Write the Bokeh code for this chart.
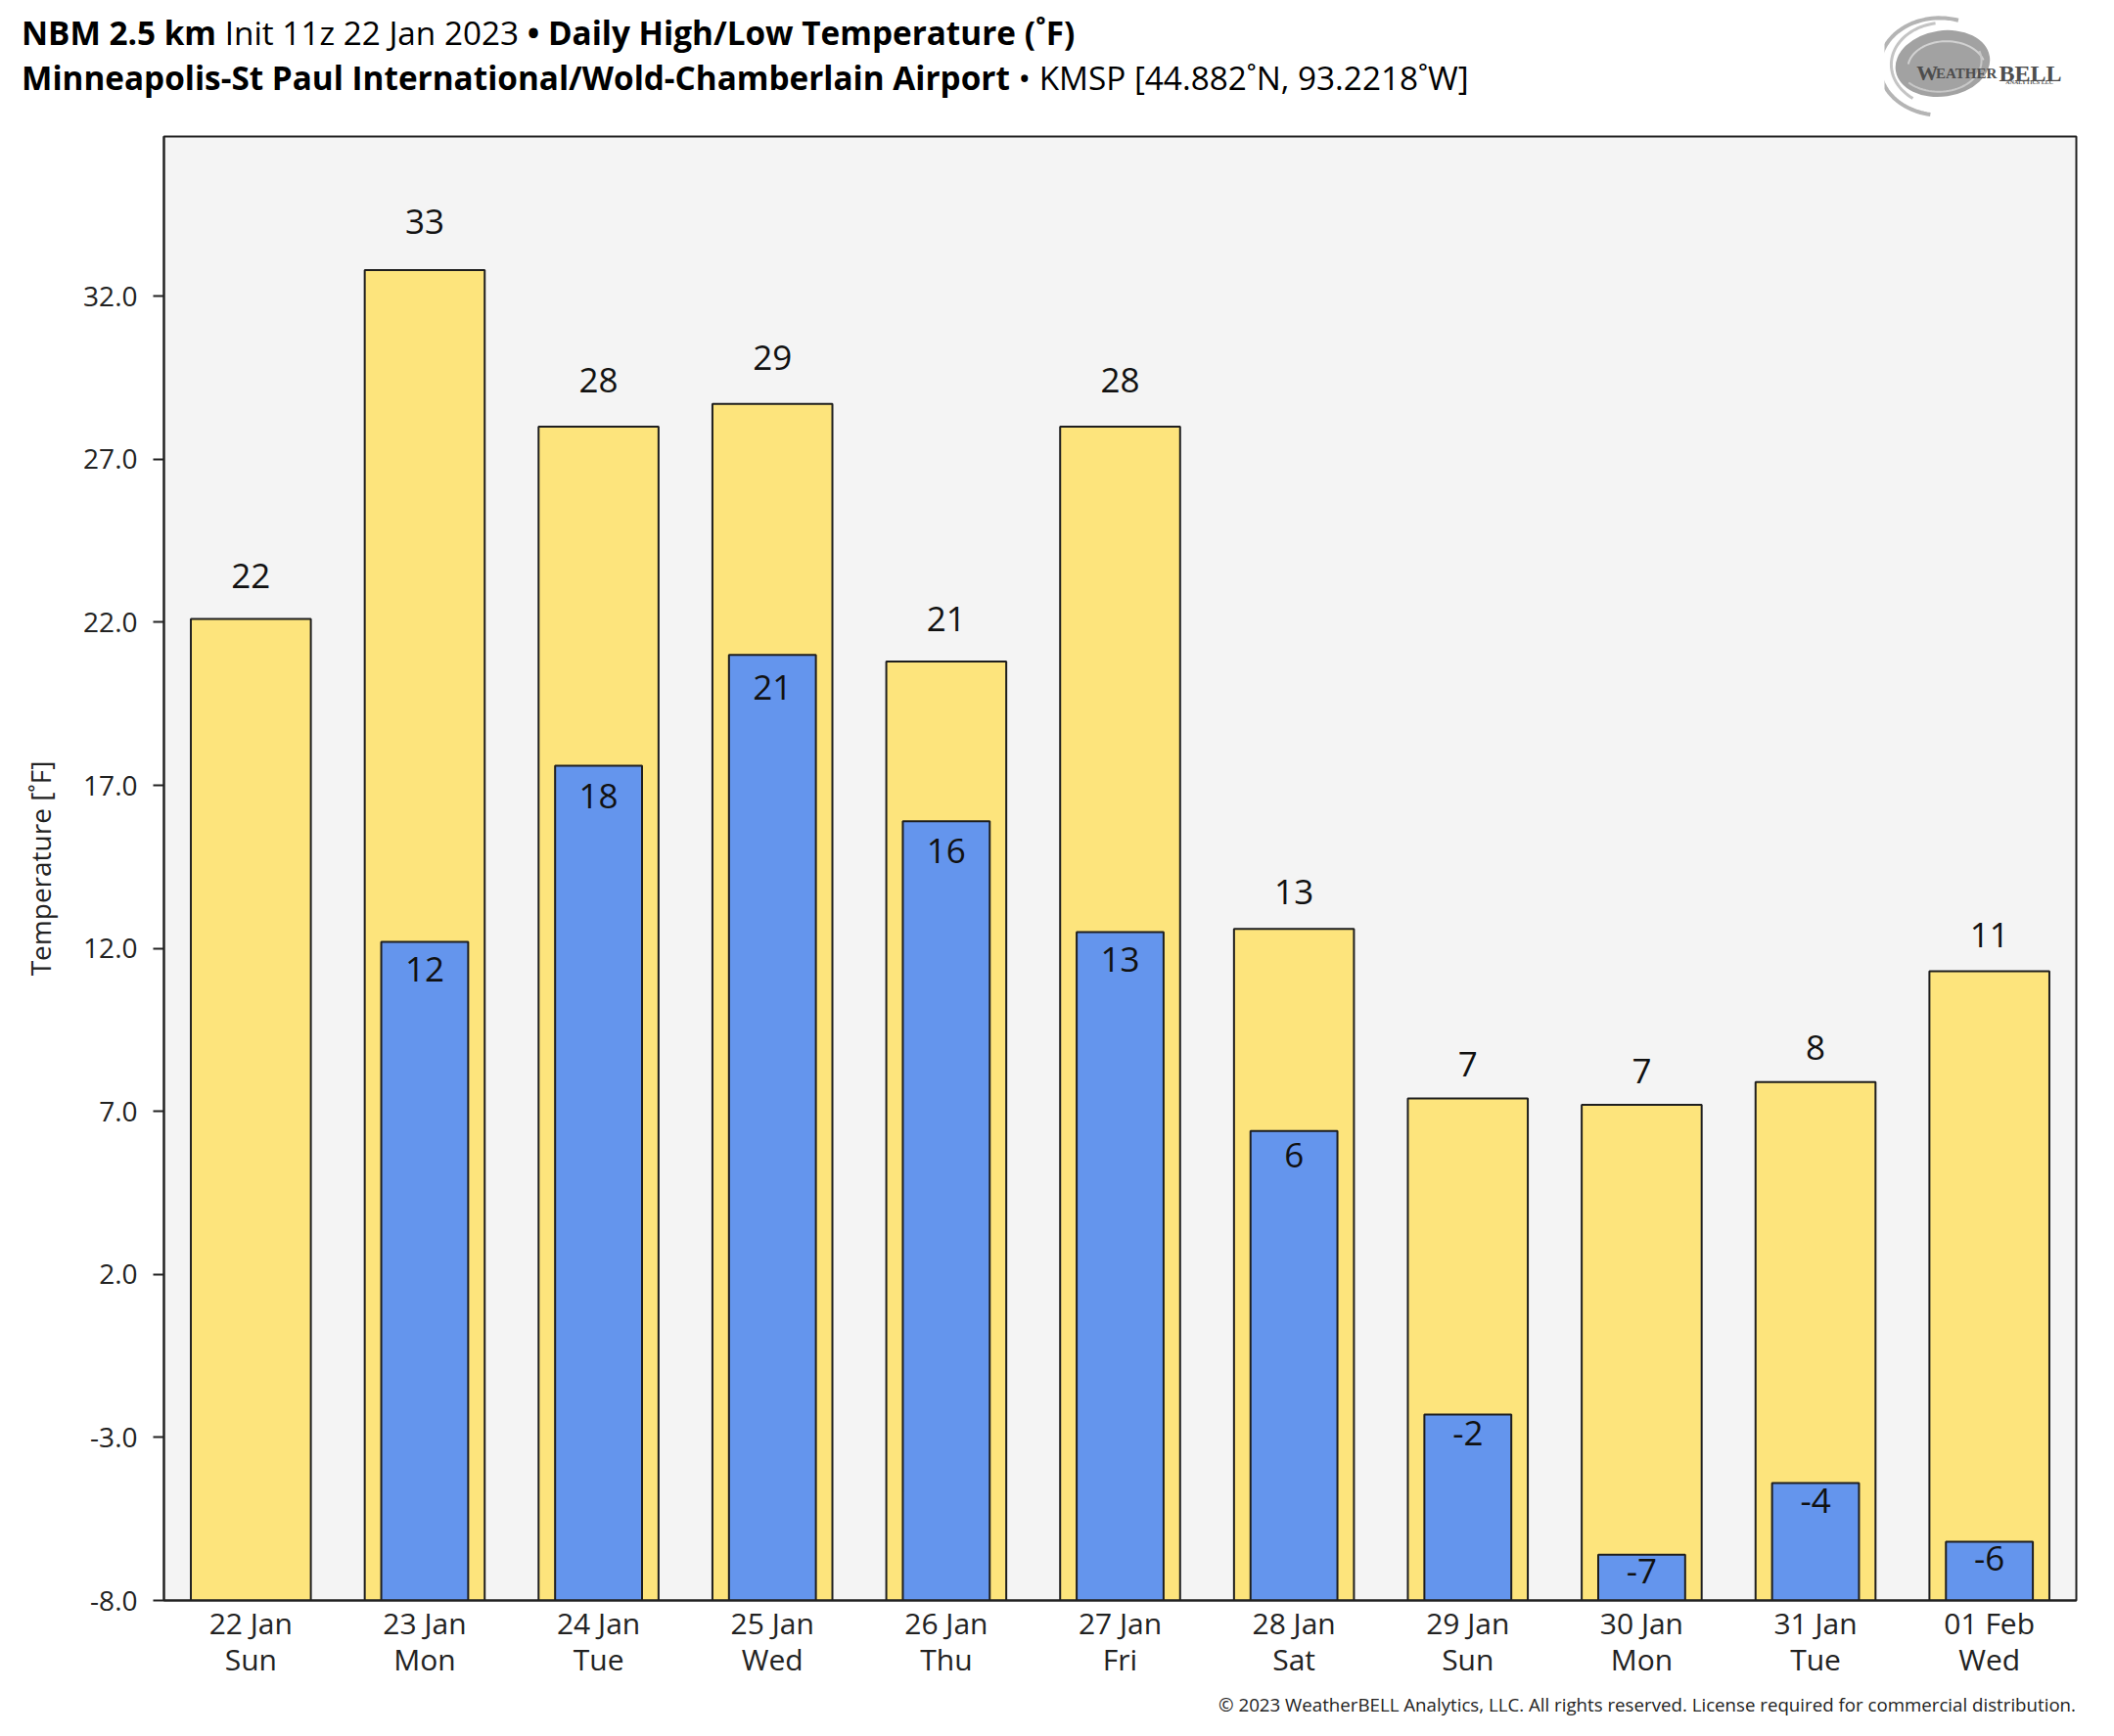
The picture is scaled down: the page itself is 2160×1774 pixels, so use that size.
import math
import numpy as np
from bokeh.plotting import figure
from bokeh.models import (Range1d, FactorRange, FixedTicker, NumeralTickFormatter,
                          Div, ColumnDataSource)
from bokeh.layouts import column, row
from bokeh.embed import file_html
from bokeh.resources import INLINE
from bokeh.core.properties import value

# ---------------- data ----------------
dates = ["22 Jan", "23 Jan", "24 Jan", "25 Jan", "26 Jan", "27 Jan",
         "28 Jan", "29 Jan", "30 Jan", "31 Jan", "01 Feb"]
weekdays = ["Sun", "Mon", "Tue", "Wed", "Thu", "Fri",
            "Sat", "Sun", "Mon", "Tue", "Wed"]
highs = [22.1, 32.8, 28.0, 28.7, 20.8, 28.0, 12.6, 7.4, 7.2, 7.9, 11.3]
lows = [None, 12.2, 17.6, 21.0, 15.9, 12.5, 6.4, -2.3, -6.6, -4.4, -6.2]
y_ticks = [-8, -3, 2, 7, 12, 17, 22, 27, 32]
y_min, y_max = -8.0, 36.9

title_line1 = ("<b>NBM 2.5 km</b> Init 11z 22 Jan 2023 "
               "<b>\u2022 Daily High/Low Temperature (\u02daF)</b>")
title_line2 = ("<b>Minneapolis-St Paul International/Wold-Chamberlain Airport</b> "
               "\u2022 KMSP [44.882\u02daN, 93.2218\u02daW]")
footer = ("\u00a9 2023 WeatherBELL Analytics, LLC. All rights reserved. "
          "License required for commercial distribution.")

FONT = "Open Sans"


def lab(v):
    return str(int(math.floor(v + 0.5)))


factors = [f"{d}\n{w}" for d, w in zip(dates, weekdays)]

hi_src = ColumnDataSource(dict(
    x=factors, top=highs, label=[lab(v) for v in highs],
    ly=[v + 0.78 + 0.0177 * (v - y_min) for v in highs]))
lo_x = [f for f, v in zip(factors, lows) if v is not None]
lo_v = [v for v in lows if v is not None]
lo_src = ColumnDataSource(dict(
    x=lo_x, top=lo_v, label=[lab(v) for v in lo_v],
    ly=[v - 0.48 - 0.018 * (v - y_min) for v in lo_v]))

# ---------------- sizes ----------------
W_TOTAL = 2144
H_HEAD = 127
H_FOOT = 40
H_TOTAL = 1761
H_FIG = H_TOTAL - H_HEAD - H_FOOT
FRAME_BOTTOM = 1635 - H_HEAD

# ---------------- main figure ----------------
p = figure(x_range=FactorRange(*factors, range_padding=0),
           y_range=Range1d(y_min, y_max),
           width=W_TOTAL, height=H_FIG,
           output_backend="svg", toolbar_location=None,
           min_border_left=167, min_border_right=23,
           min_border_top=12, min_border_bottom=H_FIG - FRAME_BOTTOM,
           background_fill_color="#f4f4f4", border_fill_color="white",
           outline_line_color="#222222", outline_line_width=2)

p.vbar(x="x", top="top", bottom=y_min, width=0.69, source=hi_src,
       fill_color="#fde47c", line_color="#1e1e1e", line_width=2)
p.vbar(x="x", top="top", bottom=y_min, width=0.50, source=lo_src,
       fill_color="#6495ed", line_color="#1e1e1e", line_width=2)

p.text(x="x", y="ly", text="label", source=hi_src,
       text_align="center", text_baseline="middle",
       text_font=value(FONT), text_font_size="35px", text_color="#111111")
p.text(x="x", y="ly", text="label", source=lo_src,
       text_align="center", text_baseline="middle",
       text_font=value(FONT), text_font_size="35px", text_color="#111111")

p.xgrid.grid_line_color = None
p.ygrid.grid_line_color = None

xa = p.xaxis[0]
xa.major_tick_line_color = None
xa.major_tick_out = 0
xa.major_tick_in = 0
xa.minor_tick_line_color = None
xa.axis_line_color = "#222222"
xa.axis_line_width = 2
xa.major_label_text_font = FONT
xa.major_label_text_font_size = "30px"
xa.major_label_text_color = "#222222"
xa.major_label_text_line_height = 0.905
xa.major_label_standoff = 2

ya = p.yaxis[0]
ya.ticker = FixedTicker(ticks=y_ticks)
ya.formatter = NumeralTickFormatter(format="0.0")
ya.minor_tick_line_color = None
ya.major_tick_in = 0
ya.major_tick_out = 11
ya.major_tick_line_color = "#222222"
ya.major_tick_line_width = 2
ya.axis_line_color = "#222222"
ya.axis_line_width = 2
ya.major_label_text_font = FONT
ya.major_label_text_font_size = "28px"
ya.major_label_text_color = "#222222"
ya.major_label_standoff = 16
ya.axis_label = "Temperature [\u02daF]"
ya.axis_label_text_font = FONT
ya.axis_label_text_font_style = "normal"
ya.axis_label_text_font_size = "28px"
ya.axis_label_text_color = "#222222"
ya.axis_label_standoff = 22

# ---------------- header ----------------
html = ('<div style="font-family:\'Open Sans\';font-size:33.3px;line-height:46px;'
        'color:#000;padding:10px 0 0 22px;white-space:nowrap;">'
        + title_line1 + "<br>" + title_line2 + "</div>")
W_LOGO = 219
div = Div(text=html, width=W_TOTAL - W_LOGO, height=H_HEAD, margin=(0, 0, 0, 0))

# ---------------- logo (decoration) ----------------
lf = figure(width=W_LOGO, height=H_HEAD, x_range=Range1d(1939, 2160),
            y_range=Range1d(128, 0),
            toolbar_location=None, output_backend="svg", min_border=0,
            outline_line_color=None, background_fill_color="white",
            border_fill_color="white")
lf.axis.visible = False
lf.grid.grid_line_color = None
t = np.linspace(0.55 * np.pi, 1.6 * np.pi, 60)
lf.line(1996 + 62 * np.cos(t), 68 + 50 * np.sin(t), line_color="#b4b4b4", line_width=4)
t2 = np.linspace(0.7 * np.pi, 1.45 * np.pi, 40)
lf.line(2000 + 54 * np.cos(t2), 66 + 43 * np.sin(t2), line_color="#c4c4c4", line_width=3)
lf.ellipse(x=[1999], y=[65], width=[98], height=[68], angle=[0.15],
           fill_color="#a2a2a2", line_color=None)
t3 = np.linspace(1.05 * np.pi, 1.9 * np.pi, 40)
lf.line(2003 + 40 * np.cos(t3), 70 + 28 * np.sin(t3), line_color="#d2d2d2", line_width=2)
t4 = np.linspace(-0.1 * np.pi, 0.75 * np.pi, 40)
lf.line(1995 + 44 * np.cos(t4), 62 + 32 * np.sin(t4), line_color="#c8c8c8", line_width=2)
lf.text(x=[1972], y=[75], text=["W"], text_font=value("Liberation Serif"),
        text_font_size="22px", text_font_style="bold", text_color="#4d4d4d",
        text_baseline="alphabetic")
lf.text(x=[1992], y=[75], text=["EATHER"], text_font=value("Liberation Serif"),
        text_font_size="15px", text_font_style="bold", text_color="#4d4d4d",
        text_baseline="alphabetic")
lf.text(x=[2057], y=[75], text=["BELL"], text_font=value("Liberation Serif"),
        text_font_size="24px", text_font_style="bold", text_color="#4d4d4d",
        text_baseline="alphabetic")
lf.text(x=[2064], y=[84], text=["ANALYTICS LLC"], text_font=value("Liberation Serif"),
        text_font_size="6px", text_font_style="bold", text_color="#555555",
        text_baseline="middle")

# ---------------- footer ----------------
foot_html = ('<div style="font-family:\'Open Sans\';font-size:18.7px;line-height:24px;'
             'color:#222;text-align:right;width:' + str(W_TOTAL - 23) + 'px;'
             'padding:9px 0 0 0;white-space:nowrap;">'
             + footer + "</div>")
foot = Div(text=foot_html, width=W_TOTAL, height=H_FOOT, margin=(0, 0, 0, 0))

layout = column(row(div, lf, spacing=0), p, foot, spacing=0)

open("out.html", "w").write(file_html(layout, INLINE))
